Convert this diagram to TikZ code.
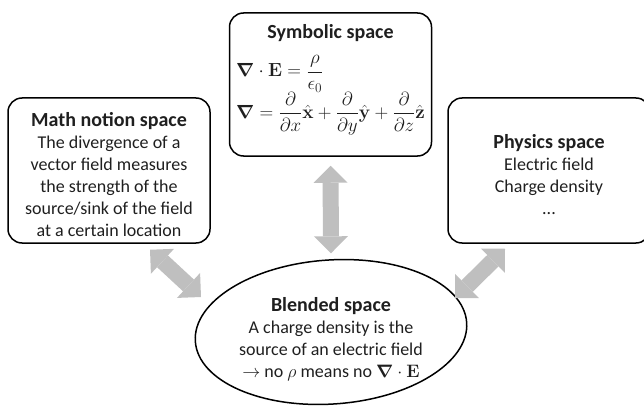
\documentclass[tikz,border=0pt]{standalone}
\usepackage{fix-cm}
\usepackage{amsmath,amssymb,bm}
\usepackage[no-math]{fontspec}
\setmainfont{Carlito}
\usetikzlibrary{arrows.meta, shapes.geometric}

\newcommand{\spacettl}[1]{{\fontsize{20}{22}\selectfont\bfseries #1}}
\newcommand{\topstrut}{\rule{0pt}{22pt}}

\begin{document}
\begin{tikzpicture}[
  x=1pt, y=1pt,
  box/.style={draw, line width=1.5pt, rounded corners=14pt, align=center, text=black!88,
              font=\fontsize{18}{22}\selectfont, minimum width=202pt, inner sep=2pt},
  blob/.style={ellipse, align=center, text=black!88, font=\fontsize{18}{22}\selectfont,
               minimum width=272pt, minimum height=145pt, inner sep=0pt},
  biarrow/.style={draw=black!25, line width=16pt, {Triangle[length=17pt, width=34pt, line width=0pt]}-{Triangle[length=17pt, width=34pt, line width=0pt]}}]
\useasboundingbox (0,0) rectangle (644,405);
\node[box, minimum height=143pt] (symb) at (330.5,320.5) {\raisebox{5.5pt}[\height][\depth]{%
  \begin{tabular}{@{}c@{}}
  \spacettl{Symbolic space}\\[11pt]
  {\fontsize{19}{23}\selectfont
  \begin{tabular}{@{}l@{}}
  $\bm{\nabla}\cdot\mathbf{E}=\dfrac{\rho}{\epsilon_0}$\\[7pt]
  $\bm{\nabla}=\dfrac{\partial}{\partial x}\hat{\mathbf{x}}+\dfrac{\partial}{\partial y}\hat{\mathbf{y}}+\dfrac{\partial}{\partial z}\hat{\mathbf{z}}$
  \end{tabular}}
  \end{tabular}}};
\node[box, minimum height=145pt] (math) at (109,234.5) {\topstrut\spacettl{Math notion space}\\
  The divergence of a\\ vector field measures\\ the strength of the\\
  source/sink of the field\\ at a certain location};
\node[box, minimum height=145pt] (phys) at (549,234.5) {\topstrut\spacettl{Physics space}\\
  Electric field\\ Charge density\\ ...};
\node[blob] (blend) at (331,73) {\makebox[0pt]{\raisebox{-13pt}[0pt][0pt]{%
  \begin{tabular}{@{}c@{}}
  \spacettl{Blended space}\\
  A charge density is the\\ source of an electric field\\
  $\rightarrow$ no $\rho$ means no $\bm{\nabla}\cdot\mathbf{E}$
  \end{tabular}}}};
\draw[line width=1.5pt, rotate around={4:(blend.center)}] (blend.center) ellipse [x radius=136, y radius=72];
% gray double arrows between the spaces
\draw[biarrow, shorten <=9pt, shorten >=6pt] (symb.south) -- (blend.north);
\draw[biarrow] ([shift={(41,-6)}]math.south) -- ([shift={(-130,35)}]blend.center);
\draw[biarrow] ([shift={(-44,-5)}]phys.south) -- ([shift={(124,34)}]blend.center);
\end{tikzpicture}
\end{document}
